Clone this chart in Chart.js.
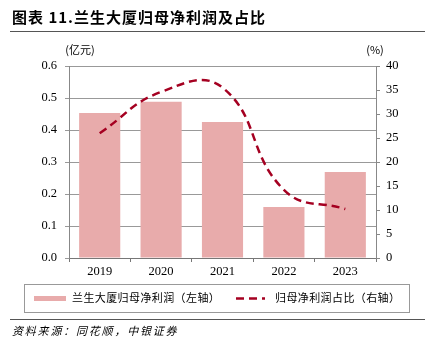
<!DOCTYPE html>
<html>
<head>
<meta charset="utf-8">
<script src="https://cdn.jsdelivr.net/npm/chart.js@4"></script>
<style>
  html, body { margin: 0; padding: 0; background: #fff; }
  #wrap { position: relative; width: 425px; height: 350px; }
</style>
</head>
<body>
<div id="wrap"><canvas id="profitChart" width="425" height="350"></canvas></div>
<script>
var years = ["2019", "2020", "2021", "2022", "2023"];
var netProfit = [0.453, 0.488, 0.425, 0.159, 0.269]; // 亿元, left axis
var profitShare = [26.0, 34.6, 35.5, 14.2, 10.2]; // %, right axis
var leftTicks = [0, 0.1, 0.2, 0.3, 0.4, 0.5, 0.6];
var rightTicks = [0, 5, 10, 15, 20, 25, 30, 35, 40];

var barColor = "#E8ABAB";
var lineColor = "#A50021";
var serif = "'Liberation Serif', 'Times New Roman', serif";
var cjk = "'Noto Sans CJK SC', sans-serif";

// title, rules, unit labels, legend box and source note
var decorations = {
    id: "decorations",
    afterDraw: function (chart) {
        var c = chart.ctx;
        c.save();
        c.fillStyle = "#000";
        c.textBaseline = "middle";
        c.font = "bold 15px " + cjk;
        c.letterSpacing = "1px";
        c.fillText("图表 11.兰生大厦归母净利润及占比", 12, 17);

        c.strokeStyle = "#555";
        c.lineWidth = 1;
        c.beginPath();
        c.moveTo(10, 31.5); c.lineTo(425, 31.5);
        c.moveTo(10, 319.5); c.lineTo(425, 319.5);
        c.stroke();

        c.letterSpacing = "0px";
        c.font = "11px " + cjk;
        c.textAlign = "center";
        c.fillText("(亿元)", 80, 50);
        c.fillText("(%)", 375, 50);

        // legend
        c.strokeStyle = "#999";
        c.strokeRect(24.5, 284.5, 385, 28);
        c.fillStyle = barColor;
        c.fillRect(34, 296, 32, 5);
        c.strokeStyle = lineColor;
        c.lineWidth = 2.5;
        c.setLineDash([8, 5]);
        c.beginPath();
        c.moveTo(236, 298.5); c.lineTo(265, 298.5);
        c.stroke();
        c.setLineDash([]);
        c.fillStyle = "#000";
        c.textAlign = "left";
        c.font = "11px " + cjk;
        c.letterSpacing = "0.4px";
        c.fillText("兰生大厦归母净利润（左轴）", 72, 298);
        c.fillText("归母净利润占比（右轴）", 275, 298);

        c.font = "italic 11px " + cjk;
        c.letterSpacing = "1.8px";
        c.fillText("资料来源：同花顺，中银证券", 12, 331);
        c.restore();
    }
};

var ctx = document.getElementById("profitChart").getContext("2d");

var myChart = new Chart(ctx, {
    type: "bar",
    data: {
        labels: years,
        datasets: [
            {
                type: "line",
                label: "归母净利润占比（右轴）",
                data: profitShare,
                yAxisID: "y1",
                borderColor: lineColor,
                borderWidth: 2.5,
                borderDash: [8, 5],
                pointRadius: 0,
                tension: 0.45,
                fill: false,
                order: 0,
            },
            {
                label: "兰生大厦归母净利润（左轴）",
                data: netProfit,
                yAxisID: "y",
                backgroundColor: barColor,
                barPercentage: 0.67,
                categoryPercentage: 1.0,
                order: 1,
            },
        ],
    },
    options: {
        responsive: false,
        animation: false,
        layout: { padding: { left: 0, right: 0, top: 66, bottom: 0 } },
        plugins: {
            legend: { display: false },
            tooltip: { enabled: false },
        },
        scales: {
            x: {
                afterFit: function (s) { s.height = 92; },
                grid: { drawOnChartArea: false, drawTicks: true, tickLength: 4, color: "#777" },
                border: { color: "#777" },
                ticks: { color: "#000", font: { family: serif, size: 12.5 }, padding: 2 },
            },
            y: {
                position: "left",
                min: 0,
                max: 0.6,
                afterFit: function (s) { s.width = 69; },
                afterBuildTicks: function (s) { s.ticks = leftTicks.map(function (v) { return { value: v }; }); },
                grid: { color: "#999", tickLength: 4 },
                border: { color: "#888" },
                ticks: {
                    color: "#000",
                    padding: 8,
                    font: { family: serif, size: 12.5 },
                    callback: function (v) { return v.toFixed(1); },
                },
            },
            y1: {
                position: "right",
                min: 0,
                max: 40,
                afterFit: function (s) { s.width = 49; },
                afterBuildTicks: function (s) { s.ticks = rightTicks.map(function (v) { return { value: v }; }); },
                grid: { drawOnChartArea: false, tickLength: 4, color: "#888" },
                border: { color: "#888" },
                ticks: { color: "#000", padding: 6, font: { family: serif, size: 12.5 } },
            },
        },
    },
    plugins: [decorations],
});
</script>
</body>
</html>
